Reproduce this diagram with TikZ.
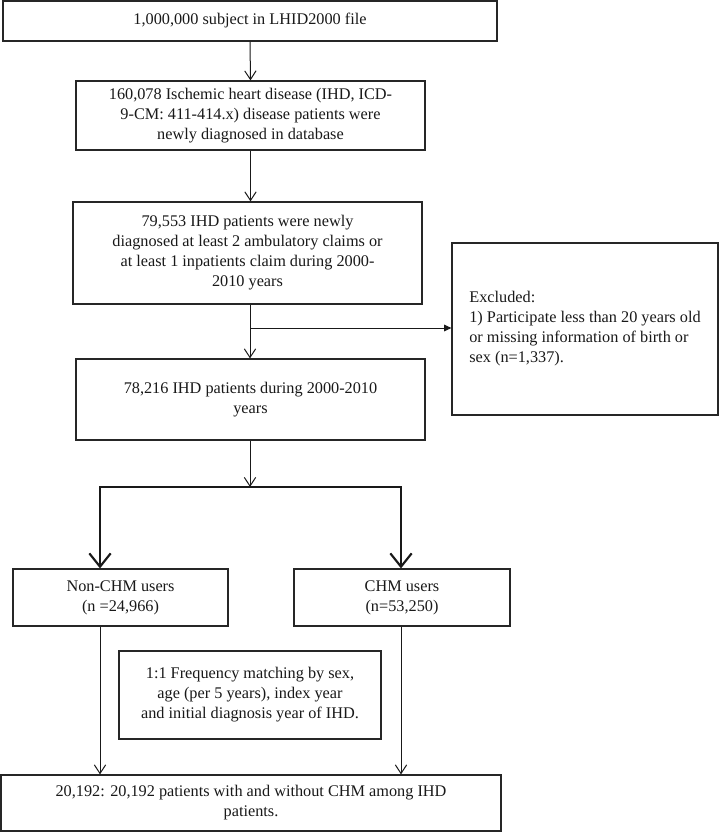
\documentclass[tikz,border=0pt]{standalone}
\usepackage{fontspec}
\setmainfont{Liberation Serif}
\usetikzlibrary{arrows.meta}
\begin{document}
\begin{tikzpicture}[x=0.75pt,y=-0.75pt,
  box/.style={draw=black!85,line width=0.9pt,rectangle,inner sep=0pt,align=center,
    font=\fontsize{12.2}{15}\selectfont,text=black!90},
  arr/.style={draw=black!90,line width=0.75pt,-{Straight Barb[length=6.5pt,width=8.5pt]}},
  tri/.style={draw=black!90,line width=0.75pt,-{Triangle[length=5.5pt,width=5pt]}},
  thk/.style={draw=black!90,line width=1.6pt,line join=miter,
    {Straight Barb[length=10pt,width=16pt]}-{Straight Barb[length=10pt,width=16pt]}}]
\useasboundingbox (0,0) rectangle (720,832);
\fill[white] (0,0) rectangle (720,832);

\node[box,minimum width=494*0.75pt,minimum height=40*0.75pt] (b1) at (250,21)
  {1,000,000 subject in LHID2000 file};
\node[box,minimum width=349*0.75pt,minimum height=69*0.75pt] (b2) at (250.5,115.5)
  {160,078 Ischemic heart disease (IHD, ICD-\\9-CM: 411-414.x) disease patients were\\newly diagnosed in database};
\node[box,minimum width=349*0.75pt,minimum height=102*0.75pt] (b3) at (247.5,253)
  {79,553 IHD patients were newly\\diagnosed at least 2 ambulatory claims or\\at least 1 inpatients claim during 2000-\\2010 years};
\node[box,align=left,minimum width=266*0.75pt,minimum height=172*0.75pt] (ex) at (585,329)
  {Excluded:\\1) Participate less than 20 years old\\or missing information of birth or\\sex (n=1,337).};
\node[box,minimum width=349*0.75pt,minimum height=81*0.75pt] (b4) at (250.5,399.5)
  {78,216 IHD patients during 2000-2010\\years};
\node[box,minimum width=215*0.75pt,minimum height=57*0.75pt] (non) at (120.5,597.5)
  {Non-CHM users\\(n =24,966)};
\node[box,minimum width=216*0.75pt,minimum height=57*0.75pt] (chm) at (402,597.5)
  {CHM users\\(n=53,250)};
\node[box,minimum width=262*0.75pt,minimum height=88*0.75pt] (mat) at (250,695)
  {1:1 Frequency matching by sex,\\age (per 5 years), index year\\and initial diagnosis year of IHD.};
\node[box,minimum width=500*0.75pt,minimum height=56*0.75pt] (bot) at (251,803)
  {20,192: 20,192 patients with and without CHM among IHD\\patients.};

\coordinate (j1) at (250,328);
\coordinate (j2) at (250,487);
\coordinate (jl) at (100,487);
\coordinate (jr) at (401,487);

\draw[arr] (b1.south) -- (b2.north);
\draw[arr] (b2.south) -- (b2.south |- b3.north);
\draw[arr] (b3.south -| j1) -- (j1 |- b4.north);
\draw[tri] (j1) -- (j1 -| ex.west);
\draw[arr] (b4.south -| j2) -- (j2);
\draw[thk] (jl |- non.north) -- (jl) -- (jr) -- (jr |- chm.north);
\draw[arr] (non.south -| jl) -- (jl |- bot.north);
\draw[arr] (chm.south -| jr) -- (jr |- bot.north);
\end{tikzpicture}
\end{document}
